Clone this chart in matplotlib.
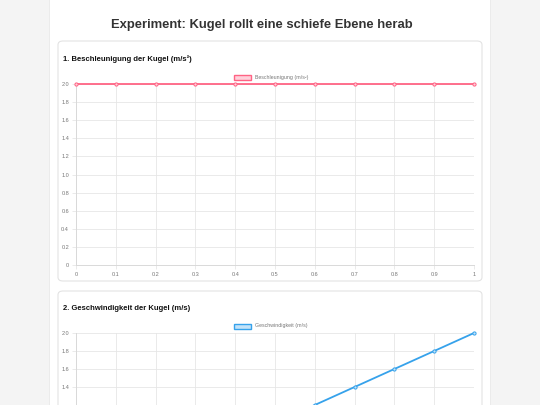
import numpy as np
import matplotlib
matplotlib.use("Agg")
import matplotlib.pyplot as plt
from matplotlib.patches import FancyBboxPatch

plt.rcParams['font.family'] = ['Liberation Sans', 'DejaVu Sans']

# data
zeit = [0, 0.1, 0.2, 0.3, 0.4, 0.5, 0.6, 0.7, 0.8, 0.9, 1]
beschleunigung = [2, 2, 2, 2, 2, 2, 2, 2, 2, 2, 2]
geschwindigkeit = [0, 0.2, 0.4, 0.6, 0.8, 1.0, 1.2, 1.4, 1.6, 1.8, 2.0]
x_labels = ["0", "0.1", "0.2", "0.3", "0.4", "0.5", "0.6", "0.7", "0.8", "0.9", "1"]
y_ticks = [0, 0.2, 0.4, 0.6, 0.8, 1.0, 1.2, 1.4, 1.6, 1.8, 2.0]
y_labels = ["0", "0.2", "0.4", "0.6", "0.8", "1.0", "1.2", "1.4", "1.6", "1.8", "2.0"]

W, H = 540, 405
fig = plt.figure(figsize=(5.4, 4.05), dpi=100)
fig.patch.set_facecolor("#f4f4f4")


def box(x0, y0, x1, y1):
    # pixel coords (top-left origin) -> figure fraction
    return [x0 / W, 1 - y1 / H, (x1 - x0) / W, (y1 - y0) / H]


def rounded(x0, y0, x1, y1, fc, ec, r=4, lw=0.8, z=0):
    b = box(x0, y0, x1, y1)
    p = FancyBboxPatch((b[0], b[1]), b[2], b[3],
                       boxstyle="round,pad=0,rounding_size=%f" % (r / W),
                       transform=fig.transFigure, fc=fc, ec=ec, lw=lw, zorder=z)
    fig.patches.append(p)


# card with soft shadow
rounded(49, -10, 491, 430, "#ebebeb", "none", r=8, z=0)
rounded(50, -10, 490, 430, "white", "none", r=8, z=1)
# sections
rounded(58, 41, 482, 281, "white", "#e3e3e3", r=5, z=2)
rounded(58, 291, 482, 440, "white", "#e3e3e3", r=5, z=2)

fig.text(262 / W, 1 - 25 / H, "Experiment: Kugel rollt eine schiefe Ebene herab",
         ha="center", va="center", fontsize=9.4, fontweight="bold", color="#333333")
fig.text(63 / W, 1 - 59 / H, "1. Beschleunigung der Kugel (m/s²)",
         ha="left", va="center", fontsize=5.5, fontweight="bold", color="#111111")
fig.text(63 / W, 1 - 308 / H, "2. Geschwindigkeit der Kugel (m/s)",
         ha="left", va="center", fontsize=5.5, fontweight="bold", color="#111111")


def chart(rect, y, color, fill, label, legend_y, show_x=True, min_ylabel=0):
    ax = fig.add_axes(rect)
    ax.set_zorder(5)
    ax.patch.set_alpha(0)
    ax.plot(zeit, y, color=color, lw=1.3, marker="o", ms=2.3,
            mfc=fill, mec=color, mew=0.7, clip_on=False, zorder=4)
    ax.set_xlim(0, 1)
    ax.set_ylim(0, 2)
    ax.set_xticks(zeit)
    ax.set_xticklabels(x_labels if show_x else [])
    ax.set_yticks(y_ticks)
    ax.set_yticklabels([l if v >= min_ylabel else "" for v, l in zip(y_ticks, y_labels)])
    ax.grid(True, color="#e6e6e6", lw=0.6)
    ax.tick_params(labelsize=4.0, colors="#777777", length=3, width=0.6,
                   pad=2, color="#e6e6e6")
    for s in ["top", "right"]:
        ax.spines[s].set_visible(False)
    for s in ["left", "bottom"]:
        ax.spines[s].set_color("#d9d9d9")
        ax.spines[s].set_linewidth(0.7)
    # legend like chart.js
    lb = box(234, legend_y - 2.5, 251, legend_y + 2.5)
    fig.patches.append(FancyBboxPatch((lb[0], lb[1]), lb[2], lb[3],
                                      boxstyle="square,pad=0", transform=fig.transFigure,
                                      fc=fill, ec=color, lw=1.0, zorder=6))
    fig.text(255 / W, 1 - legend_y / H, label, ha="left", va="center",
             fontsize=3.8, color="#777777", zorder=6)
    return ax


chart(box(76, 84, 474, 265), beschleunigung, "#ff6384", "#ffd0da",
      "Beschleunigung (m/s²)", 77)
chart(box(76, 333, 474, 513), geschwindigkeit, "#36a2eb", "#c3e3f9",
      "Geschwindigkeit (m/s)", 326, show_x=False, min_ylabel=1.3)

fig.savefig("out.png", dpi=100, facecolor=fig.get_facecolor())
